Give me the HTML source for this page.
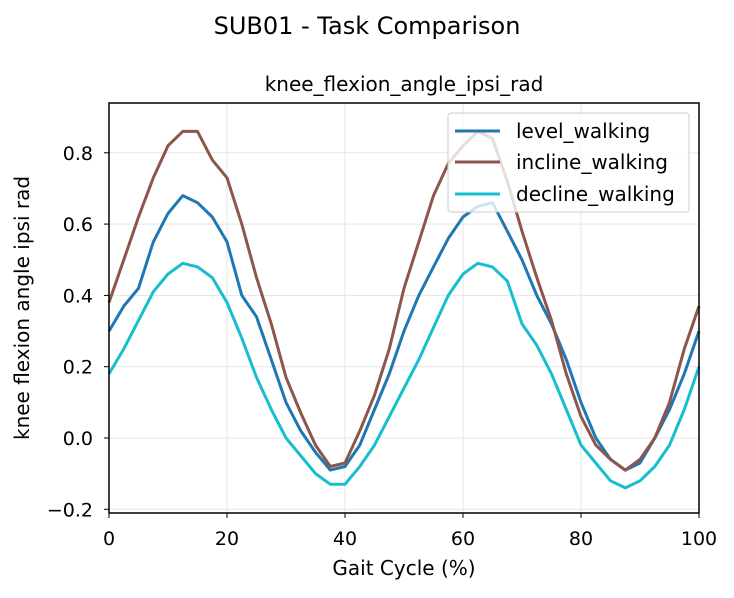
<!DOCTYPE html>
<html><head><meta charset="utf-8"><style>
body{margin:0;background:#fff;font-family:"Liberation Sans","DejaVu Sans",sans-serif}
svg text{font-family:"DejaVu Sans","Liberation Sans",sans-serif}
</style></head><body>
<svg id="c" width="734" height="593" xmlns="http://www.w3.org/2000/svg">
<rect width="734" height="593" fill="#fff"/>
<text x="367" y="34" text-anchor="middle" font-size="24">SUB01 - Task Comparison</text>
<text x="404" y="91" text-anchor="middle" font-size="20">knee_flexion_angle_ipsi_rad</text>
<g id="grid"></g><g id="series"></g><g id="axes"></g>
<text x="404" y="575" text-anchor="middle" font-size="20">Gait Cycle (%)</text>
<text transform="translate(29,308) rotate(-90)" text-anchor="middle" font-size="20">knee flexion angle ipsi rad</text>
<g>
<rect x="448" y="113" width="241" height="99" rx="3" fill="#fff" fill-opacity="0.8" stroke="#ccc"/>
<line x1="455" y1="131" x2="500" y2="131" stroke="#1f77b4" stroke-width="3"/>
<text x="516" y="138" font-size="20">level_walking</text>
<line x1="455" y1="162" x2="500" y2="162" stroke="#8c564b" stroke-width="3"/>
<text x="516" y="169" font-size="20">incline_walking</text>
<line x1="455" y1="194" x2="500" y2="194" stroke="#17becf" stroke-width="3"/>
<text x="516" y="201" font-size="20">decline_walking</text>
</g>
</svg>
<script>
const xs=[0,2.5,5,7.5,10,12.5,15,17.5,20,22.5,25,27.5,30,32.5,35,37.5,40,42.5,45,47.5,50,52.5,55,57.5,60,62.5,65,67.5,70,72.5,75,77.5,80,82.5,85,87.5,90,92.5,95,97.5,100];
const level=[0.30,0.37,0.42,0.55,0.63,0.68,0.66,0.62,0.55,0.40,0.34,0.22,0.10,0.02,-0.04,-0.09,-0.08,-0.02,0.08,0.18,0.30,0.40,0.48,0.56,0.62,0.65,0.66,0.58,0.50,0.40,0.32,0.22,0.10,0.0,-0.06,-0.09,-0.07,0.0,0.08,0.18,0.30];
const incline=[0.38,0.50,0.62,0.73,0.82,0.86,0.86,0.78,0.73,0.60,0.45,0.32,0.17,0.07,-0.02,-0.08,-0.07,0.02,0.12,0.25,0.42,0.55,0.68,0.77,0.82,0.86,0.84,0.72,0.58,0.45,0.33,0.18,0.06,-0.02,-0.06,-0.09,-0.06,0.0,0.10,0.25,0.37];
const decline=[0.18,0.25,0.33,0.41,0.46,0.49,0.48,0.45,0.38,0.28,0.17,0.08,0.0,-0.05,-0.10,-0.13,-0.13,-0.08,-0.02,0.06,0.14,0.22,0.31,0.40,0.46,0.49,0.48,0.44,0.32,0.26,0.18,0.08,-0.02,-0.07,-0.12,-0.14,-0.12,-0.08,-0.02,0.08,0.20];
const xTicks=[0,20,40,60,80,100];
const yTicks=[-0.2,0.0,0.2,0.4,0.6,0.8];
const X=v=>109+v/100*590, Y=v=>438-v*356.5;
const NS="http://www.w3.org/2000/svg";
function mk(t,a,p){const e=document.createElementNS(NS,t);for(const k in a)e.setAttribute(k,a[k]);p.appendChild(e);return e;}
const grid=document.getElementById('grid'),ax=document.getElementById('axes'),ser=document.getElementById('series');
xTicks.forEach(t=>{
 const g=mk('line',{x1:X(t),x2:X(t),y1:103,y2:513,stroke:'#e5e5e5','stroke-width':1},grid);
 
 
 const tk=mk('line',{x1:X(t),x2:X(t),y1:513,y2:518,stroke:'#000'},ax);
 
 
 const l=mk('text',{x:X(t),y:545,'text-anchor':'middle','font-size':19},ax);l.textContent=t;
 
 
});
yTicks.forEach(t=>{
 const g=mk('line',{x1:109,x2:699,y1:Y(t),y2:Y(t),stroke:'#e5e5e5','stroke-width':1},grid);
 
 
 const tk=mk('line',{x1:104,x2:109,y1:Y(t),y2:Y(t),stroke:'#000'},ax);
 
 
 const l=mk('text',{x:93,y:Y(t)+7,'text-anchor':'end','font-size':19},ax);l.textContent=(t<0?'\u2212':'')+Math.abs(t).toFixed(1);
 
 
});
[[level,'#1f77b4','level-walking-line'],[incline,'#8c564b','incline-walking-line'],[decline,'#17becf','decline-walking-line']].forEach(([d,c,n])=>{
 const p=mk('path',{d:d.map((v,i)=>(i?'L':'M')+X(xs[i]).toFixed(1)+','+Y(v).toFixed(1)).join(''),fill:'none',stroke:c,'stroke-width':3,'stroke-linejoin':'round'},ser);
 
 
});
const f=mk('rect',{x:109,y:103,width:590,height:410,fill:'none',stroke:'#000','stroke-width':1.5},ax);


</script>
</body></html>
